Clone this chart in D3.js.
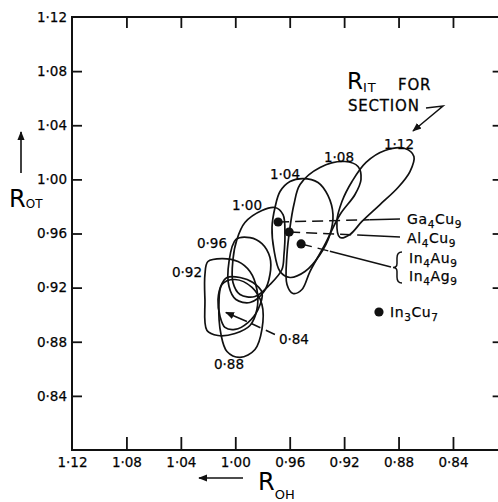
<!DOCTYPE html>
<html><head><meta charset="utf-8">
<script src="https://cdn.jsdelivr.net/npm/d3@7"></script>
<style>
html,body{margin:0;padding:0;background:#fff;}
svg{display:block;}
text{font-family:"DejaVu Sans",sans-serif;fill:#000;}
</style>
</head><body>
<svg id="chart" width="498" height="502"></svg>
<script>
// ---------- data ----------
const xTickValues = [1.12, 1.08, 1.04, 1.00, 0.96, 0.92, 0.88, 0.84, 0.80];
const xTickLabels = ["1·12", "1·08", "1·04", "1·00", "0·96", "0·92", "0·88", "0·84", ""];
const yTickValues = [0.84, 0.88, 0.92, 0.96, 1.00, 1.04, 1.08, 1.12];
const yTickLabels = ["0·84", "0·88", "0·92", "0·96", "1·00", "1·04", "1·08", "1·12"];

// compounds: R_OH, R_OT
const compoundNames = ["Ga4Cu9", "Al4Cu9", "In4Au9", "In3Cu7"];
const compoundROH = [0.9685, 0.9604, 0.9516, 0.8944];
const compoundROT = [0.9685, 0.9611, 0.9523, 0.9020];

// contour sections (R_IT) : closed loops of [R_OH, R_OT]
const contourLevels = ["0·84", "0·88", "0·92", "0·96", "1·00", "1·04", "1·08", "1·12"];
const loop084 = [[1.0061,.9275],[.9965,.9275],[.9870,.9238],[.9804,.9164],[.9833,.9038],[.9907,.8942],[1.0002,.8891],[1.0076,.8906],[1.0112,.8987],[1.0127,.9112],[1.0098,.9230]];
const loop088 = [[1.0098,.9223],[1.0002,.9260],[.9877,.9201],[.9804,.9075],[.9804,.8891],[.9855,.8743],[.9965,.8684],[1.0061,.8728],[1.0105,.8854],[1.0120,.9075]];
const loop092 = [[1.0201,.9393],[1.0098,.9415],[.9980,.9393],[.9892,.9319],[.9841,.9186],[.9841,.9038],[.9892,.8920],[1.0002,.8861],[1.0127,.8846],[1.0208,.8883],[1.0223,.9112],[1.0223,.9297]];
const loop096 = [[.9995,.9556],[.9892,.9570],[.9804,.9526],[.9745,.9423],[.9745,.9297],[.9789,.9171],[.9892,.9090],[.9995,.9112],[1.0046,.9208],[1.0046,.9393]];
const loop100 = [[.9804,.9770],[.9708,.9792],[.9649,.9740],[.9635,.9593],[.9642,.9445],[.9657,.9334],[.9745,.9223],[.9855,.9134],[.9965,.9149],[1.0017,.9238],[1.0017,.9408],[.9988,.9556],[.9929,.9681]];
const loop104 = [[.9708,.9792],[.9671,.9910],[.9598,.9984],[.9502,1.0006],[.9392,.9977],[.9319,.9881],[.9282,.9740],[.9304,.9593],[.9377,.9445],[.9488,.9319],[.9598,.9275],[.9671,.9319],[.9716,.9482],[.9730,.9644]];
const loop108 = [[.9524,.9962],[.9377,1.0088],[.9194,1.0132],[.9098,1.0095],[.9076,.9999],[.9120,.9888],[.9230,.9740],[.9341,.9519],[.9451,.9319],[.9510,.9186],[.9576,.9157],[.9620,.9223],[.9620,.9445],[.9598,.9644],[.9569,.9814]];
const loop112 = [[.9230,.9570],[.9253,.9689],[.9216,.9836],[.9142,.9984],[.9039,1.0125],[.8900,1.0213],[.8753,1.0228],[.8687,1.0169],[.8716,1.0058],[.8804,.9940],[.8936,.9814],[.9069,.9689],[.9157,.9593]];
const contourLoops = [loop084, loop088, loop092, loop096, loop100, loop104, loop108, loop112];
// where each section label sits [R_OH, R_OT]
const contourLabelROH = [.9569, 1.0046, 1.0355, 1.0171, .9914, .9635, .9238, .8797];
const contourLabelROT = [.8817, .8639, .9312, .9533, .9814, 1.0043, 1.0169, 1.0265];

// ---------- layout ----------
const svg = d3.select("#chart");
const x = d3.scaleLinear().domain([1.12, 0.80]).range([72, 507.4]);
const y = d3.scaleLinear().domain([0.80, 1.12]).range([450, 17]);
const ink = "#111";

const defs = svg.append("defs");
defs.append("marker").attr("id", "ah").attr("viewBox", "0 0 10 10")
  .attr("refX", 9).attr("refY", 5).attr("markerWidth", 9).attr("markerHeight", 9)
  .attr("markerUnits", "userSpaceOnUse").attr("orient", "auto")
  .append("path").attr("d", "M0,1 L10,5 L0,9 Z").attr("fill", ink);

// frame
const xR = x(0.8035);
svg.append("path")
  .attr("d", `M${xR},${y(1.12)} L${x(1.12)},${y(1.12)} L${x(1.12)},${y(0.80)} L${xR},${y(0.80)} L${xR},${y(1.12)}`)
  .attr("fill", "none").attr("stroke", ink).attr("stroke-width", 2);

const fmtX = d => xTickLabels[xTickValues.indexOf(d)];
const fmtY = d => yTickLabels[yTickValues.indexOf(d)];

const gB = svg.append("g").attr("transform", `translate(0,${y(0.80)})`)
  .call(d3.axisBottom(x).tickValues(xTickValues).tickFormat(fmtX).tickSizeInner(-13).tickSizeOuter(0).tickPadding(7));
const gT = svg.append("g").attr("transform", `translate(0,${y(1.12)})`)
  .call(d3.axisTop(x).tickValues(xTickValues.slice(1)).tickFormat("").tickSizeInner(-11).tickSizeOuter(0));
const gL = svg.append("g").attr("transform", `translate(${x(1.12)},0)`)
  .call(d3.axisLeft(y).tickValues(yTickValues).tickFormat(fmtY).tickSizeInner(-10).tickSizeOuter(0).tickPadding(5));
const gR = svg.append("g").attr("transform", `translate(${xR},0)`)
  .call(d3.axisRight(y).tickValues(yTickValues.slice(0, 7)).tickFormat("").tickSizeInner(-10).tickSizeOuter(0));

[gB, gT, gL, gR].forEach(g => {
  g.select(".domain").remove();
  g.selectAll(".tick line").attr("stroke", ink).attr("stroke-width", 1.8);
  g.selectAll(".tick text").attr("font-size", 13.5).attr("fill", ink)
    .attr("stroke", ink).attr("stroke-width", 0.25)
    .attr("font-family", '"DejaVu Sans",sans-serif');
});
gL.selectAll(".tick").filter(d => d === 1.12).select("line").remove();
gB.selectAll(".tick").filter(d => d === 1.12).select("line").remove();

// ---------- contour loops ----------
const loopLine = d3.line().x(d => x(d[0])).y(d => y(d[1])).curve(d3.curveCatmullRomClosed.alpha(0.5));
svg.append("g").selectAll("path").data(contourLoops).join("path")
  .attr("d", loopLine).attr("fill", "none").attr("stroke", ink).attr("stroke-width", 1.7);

svg.append("g").selectAll("text").data(contourLevels).join("text")
  .attr("x", (d, i) => x(contourLabelROH[i]))
  .attr("y", (d, i) => y(contourLabelROT[i]))
  .attr("text-anchor", "middle").attr("dominant-baseline", "central")
  .attr("stroke", ink).attr("stroke-width", 0.25)
  .attr("font-size", 13.5).text(d => d);

// ---------- compound points ----------
svg.append("g").selectAll("circle").data(compoundNames).join("circle")
  .attr("cx", (d, i) => x(compoundROH[i])).attr("cy", (d, i) => y(compoundROT[i]))
  .attr("r", 4.6).attr("fill", ink);

function subLabel(g, str, px, py, size) {
  const t = g.append("text").attr("x", px).attr("y", py).attr("font-size", size)
    .attr("letter-spacing", 0.6).attr("stroke", ink).attr("stroke-width", 0.25);
  const parts = str.match(/[A-Za-z]+|\d+/g);
  let shifted = false;
  parts.forEach(p => {
    const isNum = /\d/.test(p);
    const ts = t.append("tspan").text(p);
    if (isNum && !shifted) { ts.attr("font-size", size * 0.75).attr("dy", size * 0.3); shifted = true; }
    else if (!isNum && shifted) { ts.attr("dy", -size * 0.3); shifted = false; }
  });
  return t;
}

const ann = svg.append("g");
const lblX = x(0.8738);
function leader(i, ex, ey, dashFrac) {
  const sx = x(compoundROH[i]), sy = y(compoundROT[i]);
  const mx = sx + (ex - sx) * dashFrac, my = sy + (ey - sy) * dashFrac;
  ann.append("line").attr("x1", sx).attr("y1", sy).attr("x2", mx).attr("y2", my)
    .attr("stroke", ink).attr("stroke-width", 1.5).attr("stroke-dasharray", "11,6");
  ann.append("line").attr("x1", mx).attr("y1", my).attr("x2", ex).attr("y2", ey)
    .attr("stroke", ink).attr("stroke-width", 1.5);
}
leader(0, lblX - 7, y(compoundROT[0]) - 3, 0.75);
leader(1, lblX - 7, y(compoundROT[1]) + 5, 0.62);
leader(2, lblX - 16, y(compoundROT[2]) + 23, 0.32);

subLabel(ann, "Ga4Cu9", lblX, y(compoundROT[0]) + 2, 14);
subLabel(ann, "Al4Cu9", lblX, y(compoundROT[1]) + 11, 14);
subLabel(ann, "In4Au9", lblX + 2, y(compoundROT[2]) + 19, 14);
subLabel(ann, "In4Ag9", lblX + 2, y(compoundROT[2]) + 37, 14);
subLabel(ann, "In3Cu7", x(compoundROH[3]) + 11, y(compoundROT[3]) + 5, 14);

// brace for In4Au9 / In4Ag9
const bx = lblX - 10, by0 = y(compoundROT[2]) + 8, by1 = y(compoundROT[2]) + 39, bm = (by0 + by1) / 2;
ann.append("path")
  .attr("d", `M${bx + 5},${by0} Q${bx},${by0} ${bx},${by0 + 6} L${bx},${bm - 4} Q${bx},${bm} ${bx - 4},${bm} Q${bx},${bm} ${bx},${bm + 4} L${bx},${by1 - 6} Q${bx},${by1} ${bx + 5},${by1}`)
  .attr("fill", "none").attr("stroke", ink).attr("stroke-width", 1.5);

// 0.84 pointer
const p84x = x(contourLabelROH[0]), p84y = y(contourLabelROT[0]);
ann.append("line").attr("x1", p84x - 19).attr("y1", p84y - 5).attr("x2", p84x - 45).attr("y2", p84y - 17)
  .attr("stroke", ink).attr("stroke-width", 1.5).attr("stroke-dasharray", "10,6");
ann.append("line").attr("x1", p84x - 47).attr("y1", p84y - 18).attr("x2", p84x - 68).attr("y2", p84y - 27)
  .attr("stroke", ink).attr("stroke-width", 1.5).attr("marker-end", "url(#ah)");

// R_IT for section annotation
const rit = svg.append("g");
const rt = rit.append("text").attr("x", 347).attr("y", 89).attr("font-size", 23);
rt.append("tspan").text("R");
rt.append("tspan").text("IT").attr("font-size", 13).attr("dy", 3).attr("letter-spacing", 1);
rit.append("text").attr("x", 398).attr("y", 90).attr("font-size", 15).attr("letter-spacing", 0.8)
  .attr("stroke", ink).attr("stroke-width", 0.3).text("FOR");
rit.append("text").attr("x", 348).attr("y", 111).attr("font-size", 15).attr("letter-spacing", 0.8)
  .attr("stroke", ink).attr("stroke-width", 0.3).text("SECTION");
rit.append("path").attr("d", "M426,108 L443,106 L413,131")
  .attr("fill", "none").attr("stroke", ink).attr("stroke-width", 1.5).attr("marker-end", "url(#ah)");

// axis titles
const yt = svg.append("text").attr("x", 9).attr("y", 207).attr("font-size", 24);
yt.append("tspan").text("R");
yt.append("tspan").text("OT").attr("font-size", 12).attr("dy", 1);
svg.append("line").attr("x1", 21).attr("y1", 173).attr("x2", 21).attr("y2", 132)
  .attr("stroke", ink).attr("stroke-width", 1.6).attr("marker-end", "url(#ah)");

const xt = svg.append("text").attr("x", 258).attr("y", 490).attr("font-size", 24);
xt.append("tspan").text("R");
xt.append("tspan").text("OH").attr("font-size", 13).attr("dy", 9);
svg.append("line").attr("x1", 243).attr("y1", 478).attr("x2", 199).attr("y2", 478)
  .attr("stroke", ink).attr("stroke-width", 1.6).attr("marker-end", "url(#ah)");
</script>
</body></html>
